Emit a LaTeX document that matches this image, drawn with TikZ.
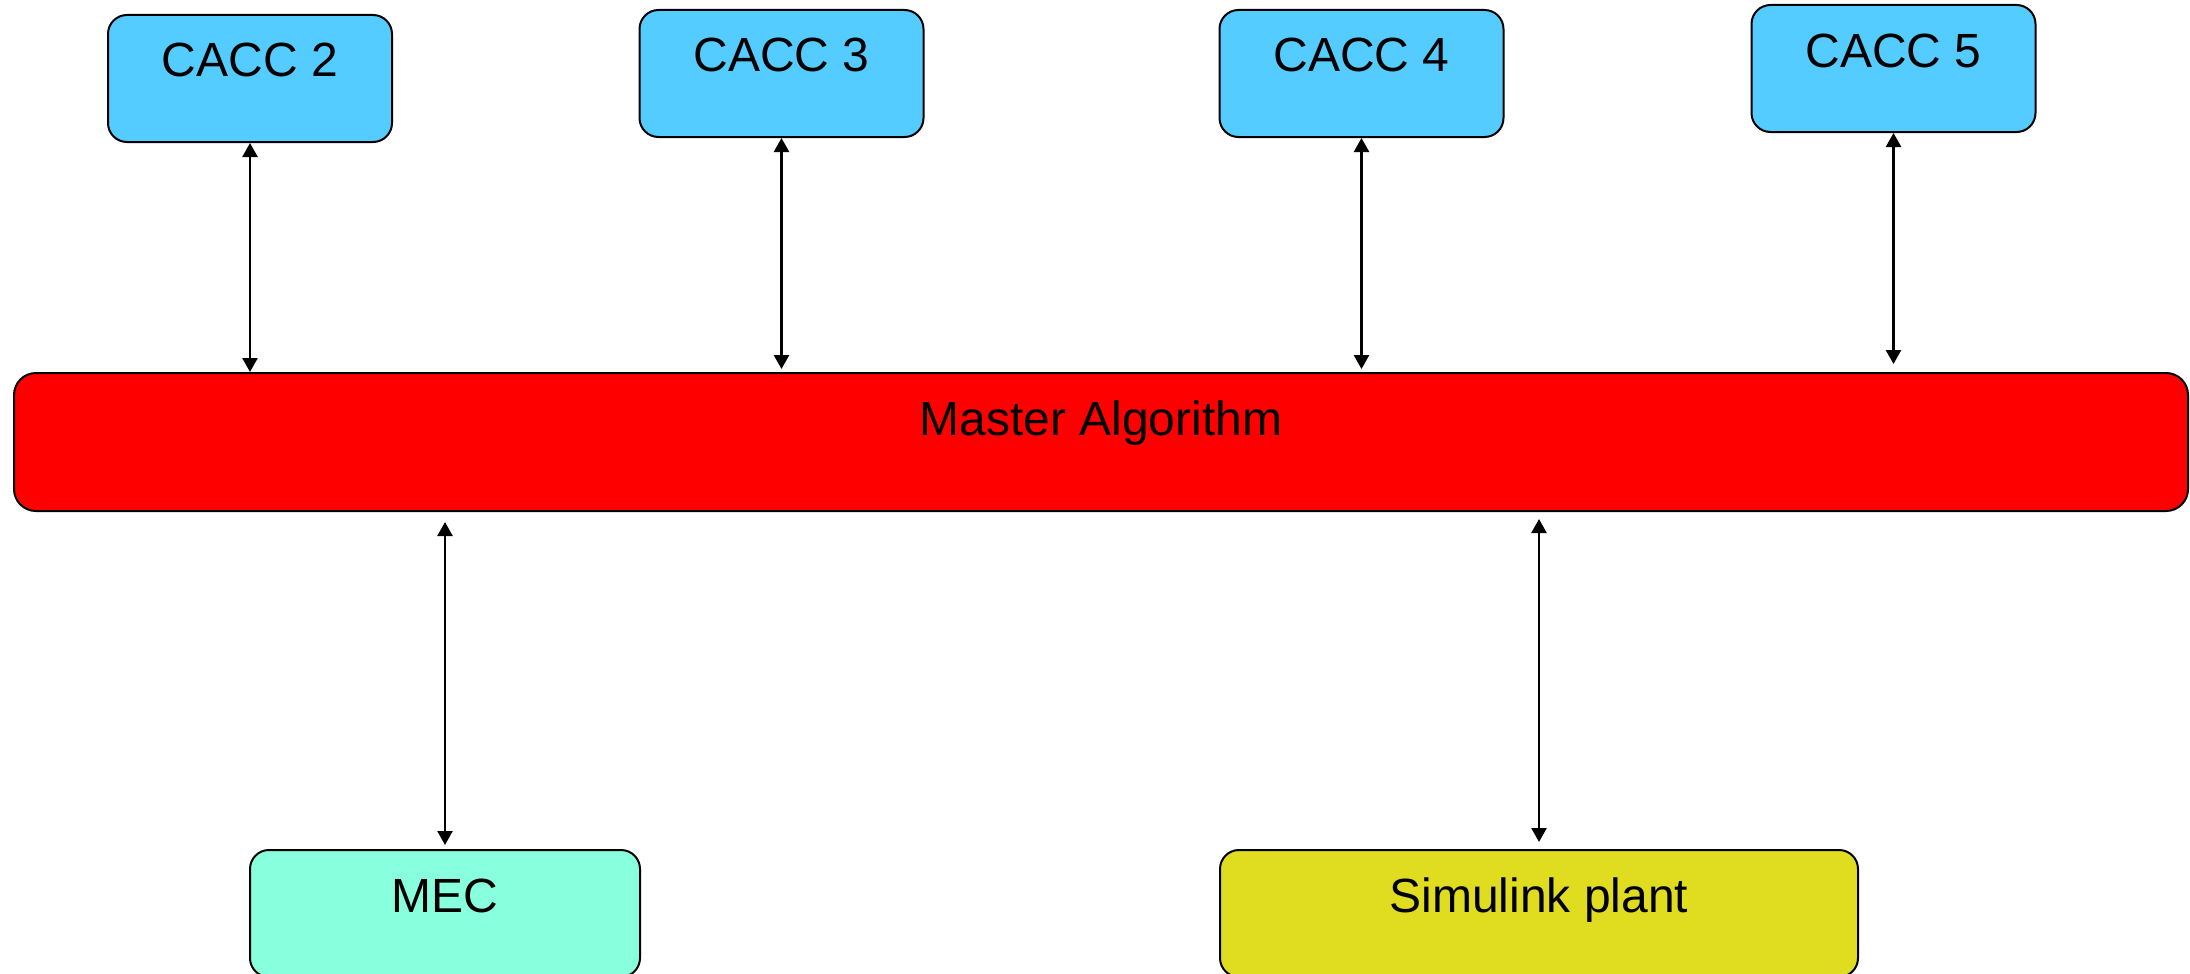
\documentclass[tikz,border=0pt]{standalone}
\usepackage{fontspec}
\setmainfont{Liberation Sans}
\usetikzlibrary{arrows.meta}

\definecolor{caccblue}{HTML}{55CCFF}
\definecolor{mecgreen}{HTML}{88FFDD}
\definecolor{plantyellow}{HTML}{E0DC20}
\definecolor{masterred}{HTML}{FF0000}

\tikzset{
  block/.style={draw=black, line width=2pt, rounded corners=19pt, inner sep=0pt},
  cacc/.style={block, fill=caccblue, minimum width=284pt, minimum height=127pt},
  caption/.style={anchor=base, inner sep=0pt, font=\fontsize{48pt}{56pt}\selectfont},
  link/.style={line width=2.5pt, {Triangle[length=14pt,width=15pt]}-{Triangle[length=14pt,width=15pt]}}
}

\begin{document}
\begin{tikzpicture}[x=1pt, y=-1pt]
  \useasboundingbox (0,0) rectangle (2190,974);
  \clip (0,0) rectangle (2190,974);

  % controller boxes along the top
  \node[cacc] (c2) at (250,78.5) {};
  \node[cacc] (c3) at (781.5,73.5) {};
  \node[cacc] (c4) at (1361.5,73.5) {};
  \node[cacc] (c5) at (1893.5,68.5) {};

  % central coordinator bar
  \node[block, fill=masterred, minimum width=2174pt, minimum height=138pt, rounded corners=22pt] (m) at (1101,442) {};

  % lower components
  \node[block, fill=mecgreen, minimum width=390pt, minimum height=127pt] (mec) at (445,913.5) {};
  \node[block, fill=plantyellow, minimum width=638pt, minimum height=127pt] (sim) at (1539,913.5) {};

  % captions
  \node[caption] at ([yshift=-63pt]c2.north) {CACC 2};
  \node[caption] at ([yshift=-63pt]c3.north) {CACC 3};
  \node[caption] at ([yshift=-63pt]c4.north) {CACC 4};
  \node[caption] at ([yshift=-63pt]c5.north) {CACC 5};
  \node[caption] at ([yshift=-63pt]m.north) {Master Algorithm};
  \node[caption] at ([yshift=-63pt]mec.north) {MEC};
  \node[caption] at ([yshift=-63pt]sim.north) {Simulink plant};

  % bidirectional links
  \draw[link] (c2.south) -- (c2.south |- m.north);
  \draw[link, shorten >=3pt] (c3.south) -- (c3.south |- m.north);
  \draw[link, shorten >=3pt] (c4.south) -- (c4.south |- m.north);
  \draw[link, shorten >=8pt] (c5.south) -- (c5.south |- m.north);
  \draw[link, shorten <=10pt, shorten >=4pt] (mec.north |- m.south) -- (mec.north);
  \draw[link, shorten <=7pt, shorten >=7pt] (sim.north |- m.south) -- (sim.north);
\end{tikzpicture}
\end{document}
